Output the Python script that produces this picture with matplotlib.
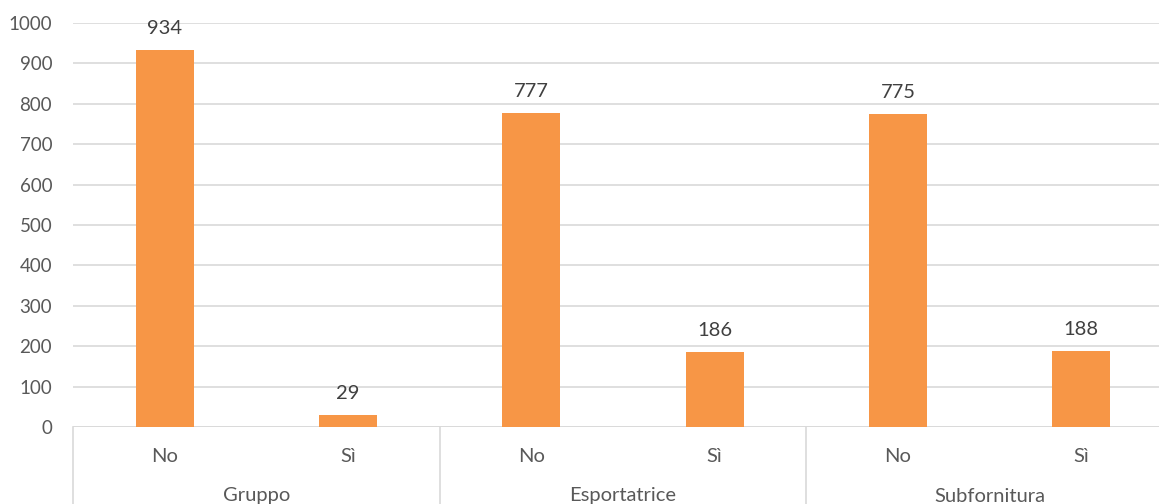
import matplotlib
matplotlib.use('Agg')
import matplotlib.pyplot as plt
import matplotlib.transforms as mtransforms

groups = ['Gruppo', 'Esportatrice', 'Subfornitura']
answers = ['No', 'Sì']
values = [934, 29, 777, 186, 775, 188]

bar_color = '#F79646'
text_color = '#595959'
grid_color = '#D9D9D9'

plt.rcParams['font.family'] = ['Lato', 'DejaVu Sans']

fig = plt.figure(figsize=(11.59, 5.04), dpi=100)
# plot area runs a little past the right edge of the image, as in the source
ax = fig.add_axes([73 / 1159, 77 / 504, 1100 / 1159, 404 / 504])

x = list(range(len(values)))
ax.bar(x, values, width=0.315, color=bar_color, zorder=3)
for xi, v in zip(x, values):
    ax.text(xi, v + 32, str(v), ha='center', va='bottom', fontsize=14.5, color='#404040')

ax.set_xlim(-0.5, len(values) - 0.5)
ax.set_ylim(0, 1000)
ax.set_yticks(range(0, 1001, 100))
ax.tick_params(axis='y', length=0, labelsize=13.5, labelcolor=text_color, pad=15)
ax.set_xticks([])
ax.grid(axis='y', color=grid_color, linewidth=1.2, zorder=0)
for s in ax.spines.values():
    s.set_visible(False)
ax.axhline(0, color=grid_color, linewidth=1.2, zorder=1)

# two-level category axis
trans = mtransforms.blended_transform_factory(ax.transData, ax.transAxes)
bottom = -77 / 404
for i in range(len(groups) + 1):
    xs = i * 2 - 0.5
    ax.plot([xs, xs], [0, bottom], color=grid_color, linewidth=1.2,
            transform=trans, clip_on=False)
for xi in x:
    ax.text(xi, -30 / 404, answers[xi % 2], transform=trans, ha='center', va='center',
            fontsize=14.5, color=text_color)
for gi, g in enumerate(groups):
    ax.text(gi * 2 + 0.5, -69 / 404, g, transform=trans, ha='center', va='center',
            fontsize=14.5, color=text_color)

fig.savefig('out.png', dpi=100)
